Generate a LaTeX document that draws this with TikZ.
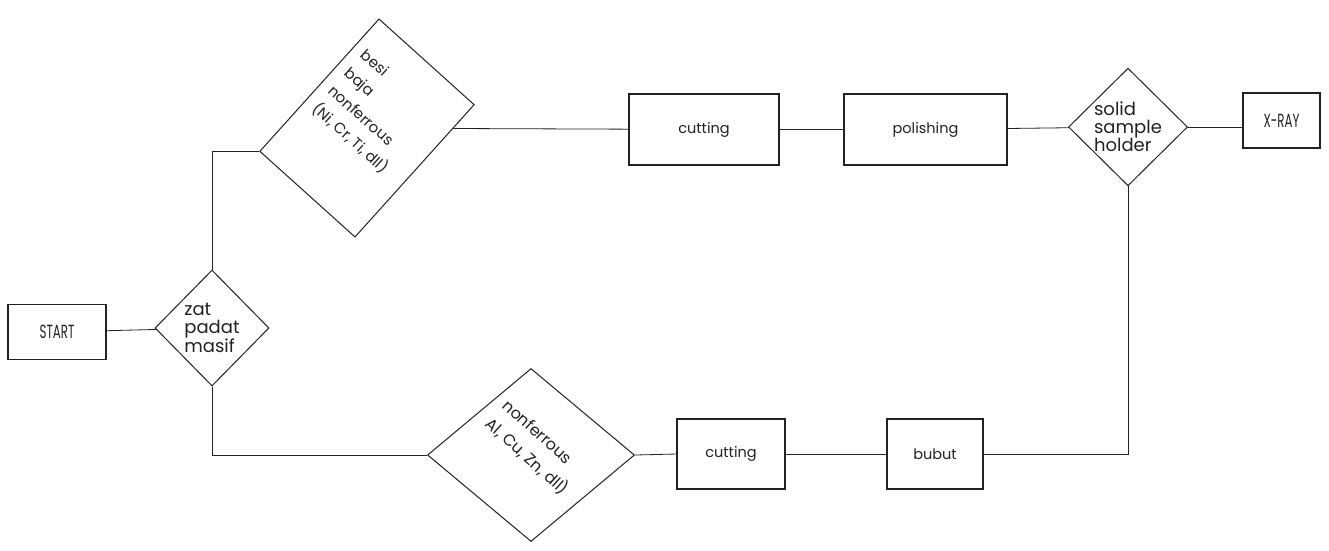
\documentclass[tikz,border=0pt]{standalone}
\usepackage{fontspec}
\setmainfont{Poppins}
\newfontfamily\capsfont[FakeStretch=0.62]{Poppins}
\usetikzlibrary{shapes.geometric}
\definecolor{ink}{HTML}{222222}
\begin{document}
\begin{tikzpicture}[x=1pt,y=-1pt,
  box/.style={draw=ink,line width=1.1pt,rectangle,inner sep=0pt,text=ink,
    font=\fontsize{14.5}{18}\selectfont},
  capbox/.style={box,font=\capsfont\fontsize{19}{20}\selectfont},
  dec/.style={draw=ink,line width=1pt,diamond,inner sep=0pt,text=ink,
    align=left,font=\fontsize{18}{18}\selectfont},
  slanttext/.style={rotate=-42,align=left,text=ink,inner sep=0pt},
  link/.style={draw=ink,line width=0.8pt}]
\useasboundingbox[fill=white] (0,0) rectangle (1329,550);

% nodes
\node[capbox,minimum width=98pt,minimum height=55pt] (start) at (57,332) {START};
\node[dec,minimum width=114pt,minimum height=116pt] (zat) at (212,328) {zat\\padat\\masif};
\node[draw=ink,line width=1pt,rectangle,inner sep=0pt,rotate=-42,
      minimum width=128pt,minimum height=178pt] (bd) at (367,128) {};
\node[slanttext,font=\fontsize{15}{24}\selectfont] (bdtext) at (374,112)
      {besi\\baja\\nonferrous\\(Ni, Cr, Ti, dll)};
\node[box,minimum width=150pt,minimum height=71pt] (cut1) at (704,129.5) {cutting};
\node[box,minimum width=163pt,minimum height=71pt] (pol) at (925.5,129.5) {polishing};
\node[dec,minimum width=119pt,minimum height=113pt] (sd) at (1128,127) {solid\\sample\\holder};
\node[capbox,minimum width=77pt,minimum height=55pt] (xray) at (1281.5,120.5) {X-RAY};
\node[draw=ink,line width=1pt,diamond,inner sep=0pt,minimum width=207pt,minimum height=173pt]
      (nf) at (531,455) {};
\node[slanttext,font=\fontsize{16}{25}\selectfont] (nftext) at (535,448)
      {nonferrous\\Al, Cu, Zn, dll)};
\node[box,minimum width=108pt,minimum height=70pt] (cut2) at (731,454) {cutting};
\node[box,minimum width=96pt,minimum height=70pt] (bub) at (935,454) {bubut};

% connectors
\draw[link] (start) -- (zat);
\draw[link] (zat.north) |- (bd.south west);
\draw[link] (bd) -- (cut1);
\draw[link] (cut1) -- (pol);
\draw[link] (pol) -- (sd);
\draw[link] (sd.east) -- (sd.east -| xray.west);
\draw[link] (zat.south) |- (nf.west);
\draw[link] (nf.east) -- (cut2.west);
\draw[link] (cut2) -- (bub);
\draw[link] (bub.east) -| (sd.south);
\end{tikzpicture}
\end{document}
